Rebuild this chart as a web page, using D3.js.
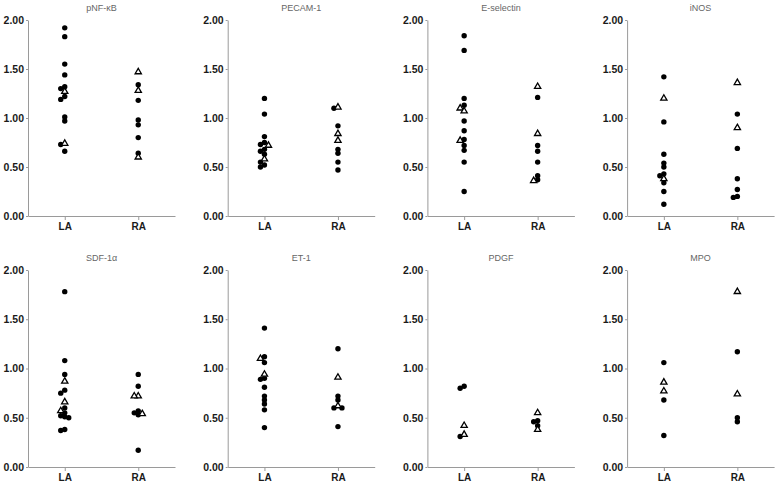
<!DOCTYPE html>
<html lang="en">
<head>
<meta charset="UTF-8">
<title>LA vs RA dot plots</title>
<script src="https://cdn.jsdelivr.net/npm/d3@7/dist/d3.min.js"></script>
<style>
    body { margin: 0; background: #fff; }
    .axis path, .axis line { stroke: #9a9a9a; stroke-width: 1px; }
    .y-axis text { font: bold 10.5px "Liberation Sans", Arial, sans-serif; fill: #1a1a1a; }
    .x-axis text { font: bold 10px "Liberation Sans", Arial, sans-serif; fill: #1a1a1a; }
    .title { font: 9px "Liberation Sans", Arial, sans-serif; fill: #666; }
</style>
</head>
<body>
<script>
    // markers shown, in reading order
    const markers = ['pNF-κB', 'PECAM-1', 'E-selectin', 'iNOS', 'SDF-1α', 'ET-1', 'PDGF', 'MPO'];
    const groups = ['LA', 'RA'];
    const yTicks = [0, 0.5, 1, 1.5, 2];

    // values; dots = filled circles, tri = open triangles
    const pnfkb = {
        LA: { dot: [1.92, 1.83, 1.55, 1.44, 1.32, 1.30, 1.22, 1.19, 1.01, 0.97, 0.73, 0.66], tri: [1.27, 0.74] },
        RA: { dot: [1.34, 1.18, 0.98, 0.93, 0.80, 0.64], tri: [1.47, 1.28, 0.60] }
    };
    const pecam = {
        LA: { dot: [1.20, 1.04, 0.81, 0.75, 0.73, 0.68, 0.66, 0.63, 0.55, 0.52, 0.50], tri: [0.72, 0.58] },
        RA: { dot: [1.10, 0.92, 0.68, 0.64, 0.55, 0.47], tri: [1.11, 0.84, 0.77] }
    };
    const eselectin = {
        LA: { dot: [1.84, 1.69, 1.20, 1.13, 0.97, 0.87, 0.78, 0.72, 0.67, 0.55, 0.25], tri: [1.10, 1.07, 0.77] },
        RA: { dot: [1.21, 0.72, 0.66, 0.55, 0.41, 0.37], tri: [1.32, 0.84, 0.36] }
    };
    const inos = {
        LA: { dot: [1.42, 0.96, 0.63, 0.54, 0.50, 0.43, 0.41, 0.34, 0.25, 0.12], tri: [1.20, 0.38] },
        RA: { dot: [1.04, 0.69, 0.38, 0.27, 0.20, 0.19], tri: [1.36, 0.90] }
    };
    const sdf1a = {
        LA: { dot: [1.78, 1.08, 0.94, 0.78, 0.75, 0.60, 0.55, 0.52, 0.51, 0.50, 0.38, 0.37], tri: [0.87, 0.66, 0.57] },
        RA: { dot: [0.94, 0.82, 0.57, 0.55, 0.53, 0.17], tri: [0.72, 0.72, 0.54] }
    };
    const et1 = {
        LA: { dot: [1.41, 1.12, 1.06, 0.90, 0.89, 0.81, 0.72, 0.68, 0.64, 0.58, 0.40], tri: [1.10, 0.94] },
        RA: { dot: [1.20, 0.72, 0.68, 0.60, 0.60, 0.41], tri: [0.91, 0.62] }
    };
    const pdgf = {
        LA: { dot: [0.82, 0.80, 0.31], tri: [0.42, 0.33] },
        RA: { dot: [0.47, 0.46, 0.42], tri: [0.55, 0.38] }
    };
    const mpo = {
        LA: { dot: [1.06, 0.68, 0.32], tri: [0.86, 0.77] },
        RA: { dot: [1.17, 0.50, 0.46], tri: [1.78, 0.74] }
    };
    const panelData = [pnfkb, pecam, eselectin, inos, sdf1a, et1, pdgf, mpo];

    const width = 777;
    const height = 484;
    const colStep = 199.7;
    const plotW = 147;
    const rowTop = [20, 270];
    const rowBottom = [216, 467];

    const svg = d3.select('body')
        .append('svg')
        .attr('width', width)
        .attr('height', height);

    const triangle = d3.symbol().type(d3.symbolTriangle).size(17);

    markers.forEach((name, i) => {
        const row = Math.floor(i / 4);
        const col = i % 4;
        const x0 = 28 + col * colStep;

        const x = d3.scalePoint()
            .domain(groups)
            .range([x0, x0 + plotW])
            .padding(0.5);
        const y = d3.scaleLinear()
            .domain([0, 2])
            .range([rowBottom[row], rowTop[row]]);

        const g = svg.append('g');

        g.append('g')
            .attr('class', 'axis y-axis')
            .attr('transform', 'translate(' + x0 + ',0)')
            .call(d3.axisLeft(y).tickValues(yTicks).tickFormat(d3.format('.2f'))
                .tickSize(2).tickSizeOuter(0).tickPadding(2));

        g.append('g')
            .attr('class', 'axis x-axis')
            .attr('transform', 'translate(0,' + rowBottom[row] + ')')
            .call(d3.axisBottom(x).tickSize(4).tickSizeOuter(0).tickPadding(3));

        g.selectAll('.domain').attr('fill', 'none');

        g.append('text')
            .attr('class', 'title')
            .attr('x', x0 + plotW / 2)
            .attr('y', rowTop[row] - 9)
            .attr('text-anchor', 'middle')
            .text(name);

        // small dodge: put a point left or right when it would sit on another one
        const d = panelData[i];
        groups.forEach(grp => {
            let pts = d[grp].dot.map(v => ({ v: v, kind: 'dot' }))
                .concat(d[grp].tri.map(v => ({ v: v, kind: 'tri' })));
            pts.sort((a, b) => b.v - a.v);
            const placed = [];
            pts.forEach(p => {
                p.py = y(p.v);
                let best = 0, bestGap = -1;
                for (const off of [0, -4, 4]) {
                    const gap = d3.min(placed, q => Math.hypot(q.dx - off, q.py - p.py)) ?? 99;
                    if (gap >= 3.6) { best = off; bestGap = gap; break; }
                    if (gap > bestGap) { best = off; bestGap = gap; }
                }
                p.dx = best;
                placed.push(p);
            });

            g.selectAll(null)
                .data(pts.filter(p => p.kind === 'dot'))
                .enter()
                .append('circle')
                .attr('cx', p => x(grp) + p.dx)
                .attr('cy', p => y(p.v))
                .attr('r', 2.7)
                .attr('fill', '#000');

            g.selectAll(null)
                .data(pts.filter(p => p.kind === 'tri'))
                .enter()
                .append('path')
                .attr('d', triangle)
                .attr('transform', p => 'translate(' + (x(grp) + p.dx) + ',' + y(p.v) + ')')
                .attr('fill', '#fff')
                .attr('stroke', '#000')
                .attr('stroke-width', 1.3);
        });
    });
</script>
</body>
</html>
